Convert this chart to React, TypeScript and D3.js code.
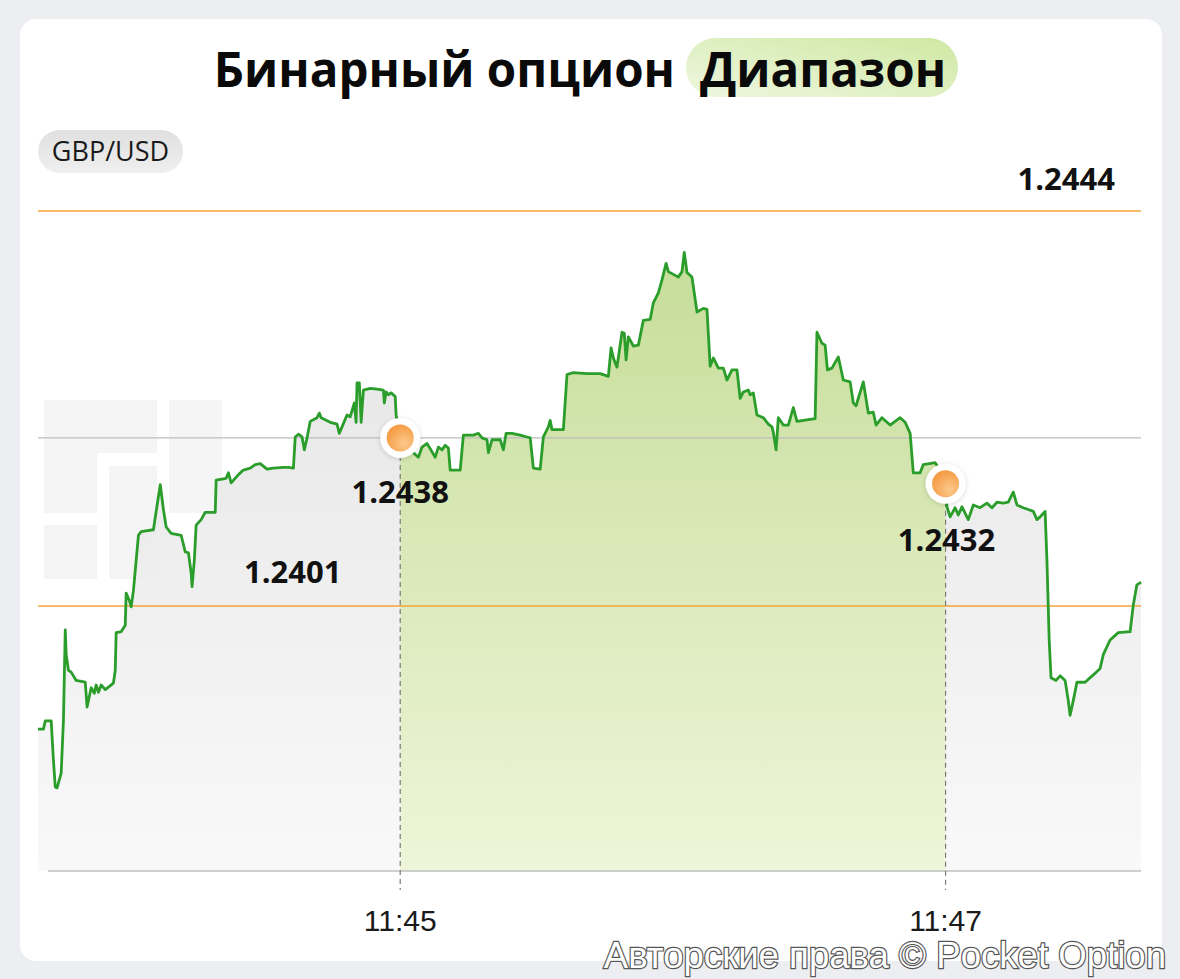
import React from "react";
import * as d3 from "d3";

// ---- data ----
const pairLabel = "GBP/USD";
const titleMain = "Бинарный опцион";
const titleTag = "Диапазон";
const copyright = "Авторские права © Pocket Option";

const upperBound = 1.2444;
const lowerBound = 1.2401;
const upperLabel = "1.2444";
const lowerLabel = "1.2401";

// seconds relative to 11:45:00
const tickSeconds = [0, 120];
const tickLabels = ["11:45", "11:47"];

const openTime = 0;
const closeTime = 120;
const openLabel = "1.2438";
const closeLabel = "1.2432";

// [seconds from 11:45:00, price]
const priceTicks: [number, number][] = [
  [-79.7, 1.23876], [-78.5, 1.23876], [-78.1, 1.23885], [-76.8, 1.23885], [-76.3, 1.23842], [-75.9, 1.23813],
  [-75.5, 1.23812], [-74.6, 1.23828], [-74.1, 1.23886], [-73.7, 1.23984], [-73.5, 1.23957], [-73.0, 1.2394],
  [-72.4, 1.23938], [-71.3, 1.23929], [-69.3, 1.23927], [-68.9, 1.239], [-68.0, 1.23921], [-67.3, 1.23915],
  [-66.9, 1.23924], [-66.4, 1.23916], [-65.8, 1.23924], [-64.9, 1.23919], [-63.1, 1.23926], [-62.7, 1.2394],
  [-62.5, 1.23981], [-61.4, 1.23982], [-60.5, 1.23989], [-60.3, 1.24024], [-59.6, 1.24016], [-59.2, 1.24009],
  [-58.7, 1.24027], [-57.6, 1.24087], [-57.0, 1.24091], [-54.3, 1.24093], [-53.7, 1.24113], [-52.8, 1.24142],
  [-52.1, 1.24115], [-51.5, 1.24096], [-50.4, 1.24089], [-48.2, 1.24087], [-47.3, 1.24069], [-46.6, 1.24068],
  [-46.0, 1.24046], [-45.8, 1.24031], [-45.3, 1.2406], [-44.9, 1.24098], [-43.8, 1.24104], [-42.9, 1.24112],
  [-40.7, 1.24112], [-40.5, 1.24147], [-38.3, 1.24149], [-37.8, 1.24155], [-37.2, 1.24144], [-35.6, 1.24153],
  [-34.5, 1.24158], [-33.0, 1.2416], [-31.9, 1.24164], [-30.8, 1.24165], [-29.3, 1.24159], [-27.9, 1.2416],
  [-25.7, 1.24161], [-24.6, 1.24161], [-23.5, 1.2416], [-23.1, 1.24194], [-22.4, 1.24197], [-21.6, 1.24194],
  [-21.1, 1.2418], [-20.5, 1.24193], [-19.8, 1.24211], [-18.3, 1.24215], [-17.8, 1.2422], [-17.4, 1.24215],
  [-15.4, 1.2421], [-13.9, 1.24208], [-13.4, 1.24198], [-12.8, 1.24205], [-11.7, 1.24218], [-11.0, 1.24216],
  [-10.1, 1.24231], [-9.7, 1.2421], [-9.5, 1.24253], [-9.0, 1.24253], [-8.6, 1.2421], [-8.1, 1.24245],
  [-6.6, 1.24247], [-5.1, 1.24246], [-3.7, 1.24245], [-3.5, 1.24231], [-3.1, 1.24243], [-2.6, 1.2424],
  [-2.0, 1.24242], [-1.1, 1.24238], [-0.9, 1.24218], [0, 1.24193],
  [1.1, 1.24182], [2.6, 1.24178], [4.0, 1.24172], [4.8, 1.24183], [5.9, 1.24187], [7.7, 1.24172],
  [8.4, 1.24183], [9.2, 1.2418], [9.9, 1.24185], [10.6, 1.24182], [11.0, 1.24158], [13.2, 1.24158],
  [13.9, 1.24196], [16.1, 1.24196], [17.2, 1.24198], [18.0, 1.24193], [19.1, 1.24191], [19.4, 1.24177],
  [20.2, 1.24191], [22.0, 1.24191], [22.7, 1.2418], [23.3, 1.24198], [24.6, 1.24198], [26.4, 1.24196],
  [27.9, 1.24194], [28.6, 1.24193], [29.3, 1.2416], [30.8, 1.24159], [31.5, 1.24194], [32.6, 1.24205],
  [33.0, 1.24212], [33.4, 1.24202], [35.9, 1.24202], [36.7, 1.24262], [38.1, 1.24264], [41.1, 1.24263],
  [44.0, 1.24263], [45.8, 1.2426], [46.4, 1.24291], [46.9, 1.2428], [47.7, 1.2427], [48.8, 1.24308],
  [49.3, 1.24307], [49.7, 1.24278], [50.2, 1.24303], [51.3, 1.24293], [52.4, 1.24294], [53.5, 1.24321],
  [55.0, 1.24322], [55.7, 1.2434], [56.8, 1.24351], [57.6, 1.24365], [58.5, 1.24383], [59.0, 1.24374],
  [61.2, 1.24368], [62.0, 1.24374], [62.5, 1.24395], [63.1, 1.24373], [64.2, 1.24368], [65.3, 1.2433],
  [66.7, 1.24334], [67.5, 1.24333], [68.2, 1.24271], [68.9, 1.2428], [70.0, 1.24269], [71.1, 1.24269],
  [71.9, 1.24256], [73.0, 1.24267], [74.1, 1.24267], [74.8, 1.24236], [75.5, 1.24243], [76.6, 1.24245],
  [77.0, 1.2424], [77.7, 1.24242], [78.5, 1.24218], [79.9, 1.24215], [81.0, 1.24208], [81.8, 1.24205],
  [82.1, 1.24199], [82.7, 1.2418], [83.2, 1.24215], [84.3, 1.24207], [85.4, 1.24207], [86.5, 1.24226],
  [87.3, 1.24211], [88.7, 1.24212], [91.3, 1.24214], [91.7, 1.24308], [92.8, 1.24296], [93.5, 1.24294],
  [94.0, 1.24267], [95.0, 1.24269], [96.4, 1.24281], [97.5, 1.24256], [99.0, 1.24254], [99.7, 1.24231],
  [100.3, 1.24228], [101.9, 1.24254], [103.0, 1.2422], [104.1, 1.24221], [104.7, 1.24207], [106.0, 1.24215],
  [107.8, 1.24207], [110.0, 1.24215], [111.1, 1.2421], [112.2, 1.24198], [112.9, 1.24155], [114.4, 1.24155],
  [115.1, 1.24164], [117.7, 1.24166], [118.8, 1.24158], [120.0, 1.24143],
  [120.3, 1.24118], [121.0, 1.24107], [122.1, 1.24117], [122.8, 1.24109], [123.6, 1.24118], [125.0, 1.24104],
  [126.1, 1.2412], [127.6, 1.24117], [129.1, 1.24122], [130.2, 1.24117], [131.3, 1.24123], [132.7, 1.24122],
  [133.8, 1.24123], [134.9, 1.24134], [135.7, 1.2412], [137.1, 1.24117], [138.2, 1.24115], [139.3, 1.24113],
  [140.1, 1.24104], [140.8, 1.24107], [141.9, 1.24113], [142.3, 1.2406], [142.8, 1.23973], [143.2, 1.23932],
  [144.3, 1.23929], [145.2, 1.23934], [146.3, 1.23929], [147.0, 1.23907], [147.4, 1.23891], [148.1, 1.23907],
  [148.9, 1.23927], [150.7, 1.23927], [152.5, 1.23935], [154.0, 1.23942], [154.7, 1.23957], [156.2, 1.23973],
  [158.0, 1.23981], [160.6, 1.23982], [161.3, 1.24011], [162.1, 1.24033], [163.0, 1.24036],
];

// ---- layout ----
const W = 1180;
const H = 979;
const plotLeft = 38;
const plotRight = 1141;
const plotBottom = 871;

export default function App() {
  const x = d3.scaleLinear().domain([-79.7, 163.0]).range([plotLeft, plotRight]);
  const y = d3.scaleLinear().domain([lowerBound, upperBound]).range([606, 211]);

  const line = d3
    .line<[number, number]>()
    .x((d) => x(d[0]))
    .y((d) => y(d[1]));
  const area = d3
    .area<[number, number]>()
    .x((d) => x(d[0]))
    .y0(plotBottom)
    .y1((d) => y(d[1]));

  const findPrice = (t: number) => {
    const p = priceTicks.find((d) => d[0] === t);
    return p ? p[1] : priceTicks[0][1];
  };
  const openPrice = findPrice(openTime);
  const closePrice = findPrice(closeTime);
  const xo = x(openTime);
  const xc = x(closeTime);
  const yo = y(openPrice);
  const yc = y(closePrice);

  const boldFont = "'Open Sans', 'Noto Sans', sans-serif";

  return (
    <svg
      width={W}
      height={H}
      style={{ position: "absolute", left: 0, top: 0, display: "block" }}
      xmlns="http://www.w3.org/2000/svg"
    >
      <defs>
        <linearGradient id="grayFill" gradientUnits="userSpaceOnUse" x1="0" y1="250" x2="0" y2={plotBottom}>
          <stop offset="0" stopColor="#e1e1e1" />
          <stop offset="1" stopColor="#f8f8f8" />
        </linearGradient>
        <linearGradient id="greenFill" gradientUnits="userSpaceOnUse" x1="0" y1="250" x2="0" y2={plotBottom}>
          <stop offset="0" stopColor="#c6dd99" />
          <stop offset="1" stopColor="#eef5d9" />
        </linearGradient>
        <linearGradient id="tagFill" x1="0" y1="1" x2="1" y2="0">
          <stop offset="0" stopColor="#eef7e0" />
          <stop offset="1" stopColor="#cfe8a2" />
        </linearGradient>
        <linearGradient id="pairFill" x1="0" y1="0" x2="0" y2="1">
          <stop offset="0" stopColor="#e0e0e0" />
          <stop offset="1" stopColor="#efefef" />
        </linearGradient>
        <radialGradient id="dotFill" cx="0.65" cy="0.7" r="0.75">
          <stop offset="0" stopColor="#fbc98a" />
          <stop offset="1" stopColor="#f5983f" />
        </radialGradient>
        <filter id="dotShadow" x="-50%" y="-50%" width="200%" height="200%">
          <feDropShadow dx="0" dy="1" stdDeviation="2.5" floodColor="#000" floodOpacity="0.16" />
        </filter>
        <clipPath id="rangeClip">
          <rect x={xo} y={0} width={xc - xo} height={H} />
        </clipPath>
      </defs>

      {/* background + card */}
      <rect x={0} y={0} width={W} height={H} fill="#eceef1" />
      <rect x={20} y={19} width={1142} height={942} rx={16} fill="#ffffff" />

      {/* title */}
      <rect x={686} y={38} width={272} height={59} rx={29.5} fill="url(#tagFill)" />
      <text x={675} y={87} textAnchor="end" fontFamily={boldFont} fontWeight={700} fontSize={47.5} fill="#0a0a0a">
        {titleMain}
      </text>
      <text x={700} y={87} textAnchor="start" fontFamily={boldFont} fontWeight={700} fontSize={47.5} fill="#0a0a0a">
        {titleTag}
      </text>

      {/* pair pill */}
      <rect x={38} y={130} width={145} height={43} rx={21.5} fill="url(#pairFill)" />
      <text x={110.5} y={161} textAnchor="middle" fontFamily={boldFont} fontSize={27} fill="#1a1a1a">
        {pairLabel}
      </text>

      {/* faint watermark logo */}
      <g fill="#f5f5f5">
        <rect x={44} y={400} width={113} height={53} />
        <rect x={44} y={453} width={53} height={60} />
        <rect x={169} y={400} width={53} height={113} />
        <rect x={109} y={466} width={48} height={113} />
        <rect x={44} y={525} width={53} height={54} />
      </g>

      {/* areas */}
      <path d={area(priceTicks) || ""} fill="url(#grayFill)" opacity={0.9} />
      <path d={area(priceTicks) || ""} fill="url(#greenFill)" clipPath="url(#rangeClip)" />

      {/* level lines */}
      <line x1={plotLeft} x2={plotRight} y1={yo} y2={yo} stroke="#bdbdbd" strokeWidth={1.2} />
      <line x1={plotLeft} x2={plotRight} y1={y(upperBound)} y2={y(upperBound)} stroke="#f2a536" strokeWidth={1.5} />
      <line x1={plotLeft} x2={plotRight} y1={y(lowerBound)} y2={y(lowerBound)} stroke="#f2a536" strokeWidth={1.5} />

      {/* axis */}
      <line x1={48} x2={plotRight} y1={plotBottom} y2={plotBottom} stroke="#bfbfbf" strokeWidth={1.5} />

      {/* dashed verticals */}
      <line x1={xo} x2={xo} y1={yo} y2={890} stroke="#7a7a7a" strokeWidth={1.2} strokeDasharray="5,4" />
      <line x1={xc} x2={xc} y1={yc} y2={890} stroke="#7a7a7a" strokeWidth={1.2} strokeDasharray="5,4" />

      {/* price line */}
      <path d={line(priceTicks) || ""} fill="none" stroke="#2a9d2a" strokeWidth={2.8} strokeLinejoin="round" />

      {/* tick labels */}
      {tickSeconds.map((t, i) => (
        <text
          key={t}
          x={x(t)}
          y={931}
          textAnchor="middle"
          fontFamily="'Liberation Sans', Arial, sans-serif"
          fontSize={30}
          fill="#1a1a1a"
        >
          {tickLabels[i]}
        </text>
      ))}

      {/* markers */}
      {[
        [xo, yo],
        [xc, yc],
      ].map(([cx, cy], i) => (
        <g key={i}>
          <circle cx={cx} cy={cy} r={20} fill="#ffffff" filter="url(#dotShadow)" />
          <circle cx={cx} cy={cy} r={13.5} fill="url(#dotFill)" />
        </g>
      ))}

      {/* value labels */}
      <g fontFamily={boldFont} fontWeight={700} fontSize={31} fill="#111">
        <text x={1115} y={y(upperBound) - 21} textAnchor="end">{upperLabel}</text>
        <text x={244} y={y(lowerBound) - 23} textAnchor="start">{lowerLabel}</text>
        <text x={xo} y={yo + 65} textAnchor="middle">{openLabel}</text>
        <text x={xc + 1} y={yc + 67} textAnchor="middle">{closeLabel}</text>
      </g>

      {/* copyright */}
      <text
        x={1166}
        y={968}
        textAnchor="end"
        fontFamily="'Liberation Sans', Arial, sans-serif"
        fontSize={36.6}
        fill="#ffffff"
        stroke="#555555"
        strokeWidth={2.4}
        paintOrder="stroke"
      >
        {copyright}
      </text>
    </svg>
  );
}
